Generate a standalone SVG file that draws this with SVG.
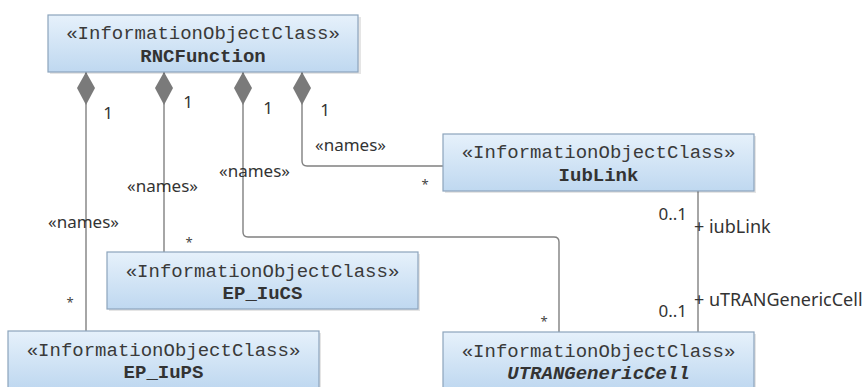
<svg xmlns="http://www.w3.org/2000/svg" width="864" height="387" viewBox="0 0 864 387">
<defs>
<linearGradient id="boxFill" x1="0" y1="0" x2="0" y2="1">
<stop offset="0" stop-color="#e6f1fb"/>
<stop offset="1" stop-color="#bfd8f0"/>
</linearGradient>
<marker id="diamond" markerUnits="userSpaceOnUse" markerWidth="36" markerHeight="20" viewBox="0 -10 36 20" refX="0" refY="0" orient="auto">
<path d="M0,0 L16,-9 L33,0 L16,9 Z" fill="#7a7a7a"/>
</marker>
<style>
.shadow{fill:#000;opacity:0.10}
.box{fill:url(#boxFill);stroke:#8ca4bc;stroke-width:1.2}
.st{font-family:"Liberation Mono","DejaVu Sans Mono",monospace;font-size:19px;fill:#3a3a3a;text-anchor:middle}
.nm{font-family:"Liberation Mono","DejaVu Sans Mono",monospace;font-size:19px;font-weight:bold;fill:#333;text-anchor:middle}
.it{font-style:italic}
.conn{fill:none;stroke:#808080;stroke-width:1.4}
.lbl{font-family:"Noto Sans","DejaVu Sans",sans-serif;font-size:17px;fill:#333}
.role{font-family:"Noto Sans","DejaVu Sans",sans-serif;font-size:18px;fill:#333}
.star{font-family:"Noto Sans","DejaVu Sans",sans-serif;font-size:13px;fill:#444;text-anchor:middle}
</style>
</defs>
<rect width="864" height="387" fill="#ffffff"/>

<g id="connectors">
<path class="conn" d="M86,72 V331" marker-start="url(#diamond)"/>
<path class="conn" d="M164,72 V252" marker-start="url(#diamond)"/>
<path class="conn" d="M243,72 V232 Q243,237 248,237 H554 Q559,237 559,242 V332" marker-start="url(#diamond)"/>
<path class="conn" d="M302,72 V161 Q302,166 307,166 H443" marker-start="url(#diamond)"/>
<path class="conn" d="M698,191 V332"/>
<text class="lbl" x="108" y="119" text-anchor="middle">1</text>
<text class="lbl" x="188" y="108" text-anchor="middle">1</text>
<text class="lbl" x="268" y="114" text-anchor="middle">1</text>
<text class="lbl" x="325" y="116" text-anchor="middle">1</text>
<text class="lbl" x="48" y="228">«names»</text>
<text class="lbl" x="127" y="192">«names»</text>
<text class="lbl" x="219" y="177">«names»</text>
<text class="lbl" x="315" y="151">«names»</text>
<text class="star" x="70" y="307">*</text>
<text class="star" x="189" y="247">*</text>
<text class="star" x="544" y="326">*</text>
<text class="star" x="425" y="189">*</text>
<text class="lbl" x="687" y="220" text-anchor="end">0..1</text>
<text class="lbl" x="687" y="317" text-anchor="end">0..1</text>
<text class="role" x="694" y="233">+ iubLink</text>
<text class="role" x="694" y="306">+ uTRANGenericCell</text>
</g>

<g id="RNCFunction">
<rect class="shadow" x="50" y="17" width="311" height="57"/>
<rect class="box" x="48" y="15" width="310" height="57"/>
<text class="st" x="203" y="39">«InformationObjectClass»</text>
<text class="nm" x="203" y="62">RNCFunction</text>
</g>

<g id="IubLink">
<rect class="shadow" x="445" y="136" width="311" height="57"/>
<rect class="box" x="443" y="134" width="311" height="57"/>
<text class="st" x="598.5" y="158">«InformationObjectClass»</text>
<text class="nm" x="598.5" y="181">IubLink</text>
</g>

<g id="EP_IuCS">
<rect class="shadow" x="109" y="254" width="311" height="57"/>
<rect class="box" x="107" y="252" width="311" height="57"/>
<text class="st" x="262.5" y="277">«InformationObjectClass»</text>
<text class="nm" x="262.5" y="299">EP_IuCS</text>
</g>

<g id="EP_IuPS">
<rect class="shadow" x="10" y="333" width="311" height="57"/>
<rect class="box" x="8" y="331" width="311" height="57"/>
<text class="st" x="163.5" y="356">«InformationObjectClass»</text>
<text class="nm" x="163.5" y="378">EP_IuPS</text>
</g>

<g id="UTRANGenericCell">
<rect class="shadow" x="445" y="334" width="311" height="57"/>
<rect class="box" x="443" y="332" width="311" height="57"/>
<text class="st" x="598.5" y="357">«InformationObjectClass»</text>
<text class="nm it" x="598.5" y="379">UTRANGenericCell</text>
</g>
</svg>
